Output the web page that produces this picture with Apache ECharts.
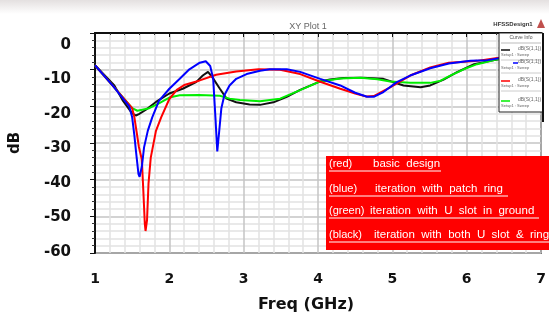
<!DOCTYPE html>
<html>
<head>
<meta charset="utf-8">
<script src="https://cdn.jsdelivr.net/npm/echarts@6/dist/echarts.min.js"></script>
<style>
  html, body { margin: 0; padding: 0; background: #fff; }
  #main { width: 549px; height: 318px; }
</style>
</head>
<body>
<div id="main"></div>
<script>
// series names / colours (in legend order)
const seriesNames = ["(black) iteration with both U slot & ring", "(blue) iteration with patch ring", "(red) basic design", "(green) iteration with U slot in ground"];
const seriesColors = ["#111111", "#0000ff", "#ff0000", "#00ee00"];

// x axis ticks (GHz) and y axis ticks (dB)
const freqTicks = [1, 2, 3, 4, 5, 6, 7];
const dbTicks = [0, -10, -20, -30, -40, -50, -60];

// red: basic design
const redFreq = [1.0, 1.25, 1.5, 1.53, 1.56, 1.59, 1.63, 1.65, 1.67, 1.68, 1.70, 1.72, 1.75, 1.82, 1.89, 2.0, 2.1, 2.2, 2.4, 2.63, 2.9, 3.2, 3.49, 3.76, 4.03, 4.3, 4.5, 4.65, 4.75, 4.97, 5.24, 5.51, 5.76, 5.92, 6.14, 6.41, 6.5];
const redDb = [-8.8, -14.6, -20.5, -23, -27, -31, -34.5, -43, -52, -54, -51, -41, -34, -26.7, -23, -18, -15.5, -14.2, -13, -11.4, -10.5, -9.9, -10, -11.2, -13.3, -15.2, -16.5, -17.3, -17.2, -14.8, -11.6, -9.4, -8.1, -7.9, -7.6, -6.8, -6.6];

// blue: patch ring
const blueFreq = [1.0, 1.25, 1.46, 1.5, 1.53, 1.55, 1.585, 1.6, 1.63, 1.66, 1.71, 1.77, 1.86, 2.0, 2.14, 2.27, 2.41, 2.49, 2.55, 2.59, 2.62, 2.645, 2.67, 2.7, 2.74, 2.81, 2.9, 3.04, 3.22, 3.35, 3.58, 3.76, 4.03, 4.3, 4.5, 4.66, 4.75, 4.88, 5.06, 5.24, 5.51, 5.76, 6.05, 6.28, 6.5];
const blueDb = [-8.8, -14.6, -20, -23, -28, -32, -38.5, -39.2, -36.5, -31.2, -26.7, -23, -18.5, -15.2, -12.5, -9.9, -8.1, -7.7, -9, -12.5, -23, -32.3, -27, -20.5, -17, -14.3, -12.5, -11.2, -10.3, -9.9, -9.9, -10.6, -12.5, -14.3, -16.3, -17.4, -17.4, -16.1, -13.4, -11.6, -9.6, -8.3, -7.6, -7.4, -6.7];

// green: U slot in ground
const greenFreq = [1.0, 1.25, 1.5, 1.57, 1.73, 1.86, 2.0, 2.14, 2.4, 2.68, 2.81, 2.95, 3.22, 3.49, 3.76, 4.03, 4.3, 4.57, 4.8, 4.97, 5.24, 5.51, 5.65, 5.78, 5.96, 6.14, 6.41, 6.5];
const greenDb = [-8.8, -14.6, -20.5, -21.2, -20.5, -19.2, -17.6, -17, -16.9, -17.1, -17.9, -18.3, -18.6, -17.9, -15.6, -13.2, -12.4, -12.2, -12.6, -13.2, -13.6, -13.6, -13, -11.6, -9.9, -8.5, -7.2, -6.8];

// black: both U slot & ring
const blackFreq = [1.0, 1.26, 1.37, 1.5, 1.55, 1.59, 1.68, 1.82, 2.0, 2.18, 2.36, 2.45, 2.52, 2.58, 2.68, 2.77, 2.9, 3.08, 3.22, 3.4, 3.58, 3.76, 4.03, 4.16, 4.34, 4.6, 4.88, 5.15, 5.38, 5.51, 5.69, 5.87, 6.1, 6.32, 6.5];
const blackDb = [-8.8, -14.3, -18.3, -21.9, -22.5, -22.1, -21, -18.8, -16.5, -15.2, -13.4, -11.6, -10.6, -12.1, -15.2, -17.9, -18.9, -19.5, -19.6, -18.9, -17.4, -15.5, -13.2, -12.7, -12.3, -12.2, -12.5, -14.3, -14.8, -14.3, -12.7, -10.7, -8.5, -7.6, -6.9];

// annotation box lines
const noteTags = ["(red)", "(blue)", "(green)", "(black)"];
const noteTexts = ["basic  design", "iteration  with  patch  ring", "iteration  with  U  slot  in  ground", "iteration  with  both  U  slot  &  ring"];

function zip(xs, ys) {
  return xs.map((x, i) => [x, ys[i]]);
}

const seriesData = [
  zip(blackFreq, blackDb),
  zip(blueFreq, blueDb),
  zip(redFreq, redDb),
  zip(greenFreq, greenDb)
];
// draw order: black, green, red, blue on top
const drawOrder = [0, 3, 2, 1];

const labelFont = "DejaVu Sans";

// HFSS style curve info box
const legendGraphics = [];
legendGraphics.push({
  type: "rect", z: 50,
  shape: { x: 499, y: 33, width: 44, height: 79 },
  style: { fill: "#fff", stroke: "#222", lineWidth: 1 }
});
legendGraphics.push({
  type: "line", z: 51,
  shape: { x1: 543, y1: 33, x2: 543, y2: 122 },
  style: { stroke: "#111", lineWidth: 2 }
});
legendGraphics.push({
  type: "text", z: 51, x: 521, y: 38,
  style: { text: "Curve Info", fill: "#555", font: "5px 'Liberation Sans'", align: "center", verticalAlign: "middle" }
});
legendGraphics.push({
  type: "line", z: 51,
  shape: { x1: 501, y1: 43, x2: 541, y2: 43 },
  style: { stroke: "#bbb", lineWidth: 1 }
});
const legendRows = [50, 63, 81, 101];
legendRows.forEach((ry, i) => {
  legendGraphics.push({
    type: "line", z: 51,
    shape: { x1: i === 1 ? 513 : 501, y1: ry, x2: i === 1 ? 518 : 510, y2: ry },
    style: { stroke: seriesColors[i], lineWidth: 1.5 }
  });
  legendGraphics.push({
    type: "text", z: 51, x: 518, y: ry - 1,
    style: { text: "dB(S(1,1))", fill: "#666", font: "5px 'Liberation Sans'", verticalAlign: "middle" }
  });
  legendGraphics.push({
    type: "text", z: 51, x: 501, y: ry + 5,
    style: { text: "Setup1 : Sweep", fill: "#666", font: "4px 'Liberation Sans'", verticalAlign: "middle" }
  });
  if (i < 3) {
    legendGraphics.push({
      type: "line", z: 51,
      shape: { x1: 501, y1: ry + 10, x2: 541, y2: ry + 10 },
      style: { stroke: "#ccc", lineWidth: 1 }
    });
  }
});

// red annotation box
const noteRows = [164, 189, 211, 235];
const noteTextX = [373, 375, 370, 374];
const noteEnds = [441, 508, 539, 549];
const noteGraphics = [{
  type: "rect", z: 60,
  shape: { x: 326, y: 156, width: 223, height: 94 },
  style: { fill: "#ff0000" }
}];
noteRows.forEach((ny, i) => {
  noteGraphics.push({
    type: "text", z: 61, x: 329, y: ny,
    style: { text: noteTags[i], fill: "#fff", font: "11px 'Liberation Sans'", verticalAlign: "middle" }
  });
  noteGraphics.push({
    type: "text", z: 61, x: noteTextX[i], y: ny,
    style: { text: noteTexts[i], fill: "#fff", font: "11.5px 'Liberation Sans'", verticalAlign: "middle" }
  });
  noteGraphics.push({
    type: "line", z: 61,
    shape: { x1: 329, y1: ny + 7, x2: noteEnds[i], y2: ny + 7 },
    style: { stroke: "#fff", lineWidth: 1 }
  });
});

let option = {
  animation: false,
  backgroundColor: "#fff",
  title: {
    // plot title
    text: "XY Plot 1",
    left: 303,
    top: 17,
    textAlign: "center",
    textStyle: { fontFamily: "Liberation Sans", fontSize: 9, fontWeight: "normal", color: "#666" }
  },
  grid: [
    {
      // plot area
      left: 95,
      right: 8,
      top: 33,
      bottom: 61,
      show: true,
      borderColor: "#111",
      borderWidth: 1.5
    },
    {
      // the dB labels sit on a slightly squeezed scale in the original
      left: 95,
      right: 8,
      top: 45,
      bottom: 66
    }
  ],
  xAxis: [
    {
      type: "value",
      min: freqTicks[0],
      max: freqTicks[freqTicks.length - 1],
      interval: 1,
      name: "Freq (GHz)",
      nameLocation: "middle",
      nameGap: 44,
      nameTextStyle: { fontFamily: labelFont, fontSize: 16, fontWeight: "bold", color: "#111", padding: [0, 24, 0, 0] },
      axisLine: { lineStyle: { color: "#111", width: 2 } },
      axisTick: { show: true, length: 4, lineStyle: { color: "#111" } },
      minorTick: { show: true, splitNumber: 5, length: 2, lineStyle: { color: "#333" } },
      splitLine: { show: true, lineStyle: { color: "#c4c4c4", width: 1.5 } },
      minorSplitLine: { show: true, lineStyle: { color: "#e2e2e2", width: 1.5 } },
      axisLabel: {
        margin: 19,
        fontFamily: labelFont, fontSize: 14, fontWeight: "bold", color: "#111",
        formatter: (v) => (freqTicks.includes(v) ? String(v) : "")
      }
    },
    {
      gridIndex: 1,
      type: "value",
      min: freqTicks[0],
      max: freqTicks[freqTicks.length - 1],
      show: false
    }
  ],
  yAxis: [
    {
      type: "value",
      min: dbTicks[dbTicks.length - 1],
      max: dbTicks[0],
      interval: 10,
      name: "dB",
      nameLocation: "middle",
      nameGap: 72,
      nameRotate: 90,
      nameTextStyle: { fontFamily: labelFont, fontSize: 15, fontWeight: "bold", color: "#111" },
      axisLine: { show: true, lineStyle: { color: "#111", width: 2 } },
      axisTick: { show: true, length: 5, lineStyle: { color: "#111" } },
      minorTick: { show: true, splitNumber: 5, length: 3, lineStyle: { color: "#333" } },
      splitLine: { show: true, lineStyle: { color: "#c4c4c4", width: 1.5 } },
      minorSplitLine: { show: true, lineStyle: { color: "#e2e2e2", width: 1.5 } },
      axisLabel: { show: false }
    },
    {
      // label-only axis
      gridIndex: 1,
      type: "value",
      min: dbTicks[dbTicks.length - 1],
      max: dbTicks[0],
      interval: 10,
      axisLine: { show: false },
      axisTick: { show: false },
      splitLine: { show: false },
      axisLabel: {
        margin: 24,
        fontFamily: labelFont, fontSize: 15, fontWeight: "bold", color: "#111",
        formatter: (v) => (dbTicks.includes(v) ? String(v) : "")
      }
    }
  ],
  graphic: [
    {
      // faded strip along the top edge
      type: "rect", z: 1,
      shape: { x: 0, y: 0, width: 549, height: 14 },
      style: {
        fill: new echarts.graphic.LinearGradient(0, 0, 0, 1, [
          { offset: 0, color: "#e4e0e0" },
          { offset: 1, color: "#ffffff" }
        ])
      }
    },
    {
      type: "text", z: 5, x: 513, y: 24,
      style: { text: "HFSSDesign1", fill: "#333", font: "bold 6px 'Liberation Sans'", align: "center", verticalAlign: "middle" }
    },
    {
      type: "polygon", z: 5,
      shape: { points: [[537, 28], [541, 19], [545, 28]] },
      style: { fill: "#c0504d" }
    },
    ...legendGraphics,
    ...noteGraphics
  ],
  series: drawOrder.map((i) => ({
    name: seriesNames[i],
    type: "line",
    data: seriesData[i],
    showSymbol: false,
    clip: true,
    lineStyle: { color: seriesColors[i], width: 2 },
    itemStyle: { color: seriesColors[i] }
  }))
};

let chartDom = document.getElementById("main");
let myChart = echarts.init(chartDom);
myChart.setOption(option);
</script>
</body>
</html>
